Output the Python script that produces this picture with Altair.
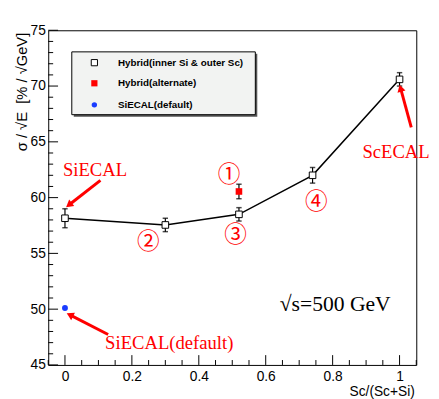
import altair as alt
import pandas as pd

# ---- data ----
hyb_x = [0.0, 0.3, 0.52, 0.74, 1.0]
hyb_y = [58.15, 57.55, 58.5, 62.0, 70.6]
hyb_err = [0.85, 0.6, 0.6, 0.7, 0.6]

alt_x = [0.52]
alt_y = [60.55]
alt_err = [0.65]

def_x = [0.0]
def_y = [50.1]

legend_labels = ["Hybrid(inner Si & outer Sc)", "Hybrid(alternate)", "SiECAL(default)"]

x_major = [0, 0.2, 0.4, 0.6, 0.8, 1.0]
x_minor = [-0.05, 0.05, 0.1, 0.15, 0.25, 0.3, 0.35, 0.45, 0.5, 0.55, 0.65, 0.7, 0.75, 0.85, 0.9, 0.95, 1.05]
y_major = [45, 50, 55, 60, 65, 70, 75]
y_minor = [46, 47, 48, 49, 51, 52, 53, 54, 56, 57, 58, 59, 61, 62, 63, 64, 66, 67, 68, 69, 71, 72, 73, 74]

ann_text = ["SiECAL", "ScECAL", "SiECAL(default)"]
ann_x = [-0.006, 0.889, 0.12]
ann_y = [61.98, 63.56, 46.41]

arrow_x = [0.106, 1.035, 0.129]
arrow_y = [61.54, 66.29, 47.73]
arrow_x2 = [0.0117, 1.003, 0.0147]
arrow_y2 = [59.34, 69.81, 49.49]
arrow_angle = [232, 345, 297]

circ_text = ["①", "②", "③", "④"]
circ_x = [0.49, 0.249, 0.510, 0.751]
circ_y = [61.98, 56.0, 56.61, 59.6]

energy_text = ["√s=500 GeV"]
energy_x = [0.642]
energy_y = [49.84]

X_TITLE = "Sc/(Sc+Si)"
Y_TITLE = "σ / √E \u00a0[% / √GeV]"

W, H = 375, 341
RED = "#ff0000"
BLUE = "#1a3cff"

xs = alt.Scale(domain=[-0.05, 1.05], nice=False, zero=False)
ys = alt.Scale(domain=[45, 75], nice=False, zero=False)

X_AXIS = alt.Axis(values=x_major, format="~g", ticks=False, domain=False, grid=False,
                  labelFontSize=14, labelPadding=5, labelColor="black",
                  labelFont="Liberation Sans",
                  title=X_TITLE, titleFont="Liberation Sans", titleFontSize=14,
                  titleFontWeight="normal", titleAnchor="end", titleAlign="right",
                  titleX=W - 2, titleY=31, titleBaseline="alphabetic", titleColor="black")
Y_AXIS = alt.Axis(values=y_major, ticks=False, domain=False, grid=False,
                  labelFontSize=14, labelPadding=3, labelColor="black",
                  labelFont="Liberation Sans",
                  title=Y_TITLE, titleFont="Liberation Sans", titleFontSize=15,
                  titleFontWeight="normal", titleAngle=270, titleAlign="right",
                  titleBaseline="middle", titleX=-27, titleY=2, titleColor="black")


def X(f="x"):
    return alt.X(f"{f}:Q", scale=xs, axis=X_AXIS, title=X_TITLE)


def Y(f="y"):
    return alt.Y(f"{f}:Q", scale=ys, axis=Y_AXIS, title=Y_TITLE)


hyb = pd.DataFrame({"x": hyb_x, "y": hyb_y, "lo": [a - b for a, b in zip(hyb_y, hyb_err)],
                    "hi": [a + b for a, b in zip(hyb_y, hyb_err)]})
alt_df = pd.DataFrame({"x": alt_x, "y": alt_y, "lo": [a - b for a, b in zip(alt_y, alt_err)],
                       "hi": [a + b for a, b in zip(alt_y, alt_err)]})
def_df = pd.DataFrame({"x": def_x, "y": def_y})

# inward ticks
xmaj = alt.Chart(pd.DataFrame({"v": x_major})).mark_rule(color="black", strokeWidth=1).encode(
    x=X("v"), y=alt.value(H), y2=alt.value(H - 10))
xmin = alt.Chart(pd.DataFrame({"v": x_minor})).mark_rule(color="black", strokeWidth=1).encode(
    x=X("v"), y=alt.value(H), y2=alt.value(H - 5))
ymaj = alt.Chart(pd.DataFrame({"v": y_major})).mark_rule(color="black", strokeWidth=1).encode(
    y=Y("v"), x=alt.value(0), x2=alt.value(10))
ymin = alt.Chart(pd.DataFrame({"v": y_minor})).mark_rule(color="black", strokeWidth=1).encode(
    y=Y("v"), x=alt.value(0), x2=alt.value(5))

line = alt.Chart(hyb).mark_line(color="black", strokeWidth=1.5).encode(x=X(), y=Y())
hyb_err_r = alt.Chart(hyb).mark_rule(color="black", strokeWidth=1.2).encode(x=X(), y=Y("lo"), y2="hi")
hyb_cap_lo = alt.Chart(hyb).mark_point(shape="stroke", size=30, color="black", strokeWidth=1.5).encode(x=X(), y=Y("lo"))
hyb_cap_hi = alt.Chart(hyb).mark_point(shape="stroke", size=30, color="black", strokeWidth=1.5).encode(x=X(), y=Y("hi"))
hyb_pts = alt.Chart(hyb).mark_point(shape="square", size=45, filled=True, fill="white",
                                    stroke="black", strokeWidth=1, opacity=1).encode(x=X(), y=Y())

alt_err_r = alt.Chart(alt_df).mark_rule(color="black", strokeWidth=1.2).encode(x=X(), y=Y("lo"), y2="hi")
alt_cap_lo = alt.Chart(alt_df).mark_point(shape="stroke", size=30, color="black", strokeWidth=1.5).encode(x=X(), y=Y("lo"))
alt_cap_hi = alt.Chart(alt_df).mark_point(shape="stroke", size=30, color="black", strokeWidth=1.5).encode(x=X(), y=Y("hi"))
alt_pts = alt.Chart(alt_df).mark_point(shape="square", size=45, filled=True, color=RED, opacity=1).encode(x=X(), y=Y())

def_pts = alt.Chart(def_df).mark_point(shape="circle", size=36, filled=True, color=BLUE, opacity=1).encode(x=X(), y=Y())

# annotations
ann = alt.Chart(pd.DataFrame({"x": ann_x, "y": ann_y, "t": ann_text})).mark_text(
    font="Liberation Serif", fontSize=19, color=RED, align="left", baseline="alphabetic").encode(
    x=X(), y=Y(), text="t:N")
arr = pd.DataFrame({"x": arrow_x, "y": arrow_y, "x2": arrow_x2, "y2": arrow_y2, "a": arrow_angle})
arr_line = alt.Chart(arr).mark_rule(color=RED, strokeWidth=3).encode(x=X(), y=Y(), x2="x2", y2="y2")
arr_head = alt.Chart(arr).mark_point(shape="triangle-up", size=70, filled=True, color=RED, opacity=1).encode(
    x=X("x2"), y=Y("y2"), angle=alt.Angle("a:Q", scale=None))
circ = alt.Chart(pd.DataFrame({"x": circ_x, "y": circ_y, "t": circ_text})).mark_text(
    font="Noto Sans CJK JP", fontSize=23, color=RED, align="center", baseline="middle").encode(
    x=X(), y=Y(), text="t:N")
energy = alt.Chart(pd.DataFrame({"x": energy_x, "y": energy_y, "t": energy_text})).mark_text(
    font="Liberation Serif", fontSize=22, color="black", align="left", baseline="alphabetic").encode(
    x=X(), y=Y(), text="t:N")

# legend box (layout in pixels)
one = pd.DataFrame({"k": [0]})
leg_shadow = alt.Chart(one).mark_rect(fill="#555555").encode(
    x=alt.value(26), x2=alt.value(213), y=alt.value(24), y2=alt.value(88))
leg_box = alt.Chart(one).mark_rect(fill="#f2f3f2", stroke="black", strokeWidth=1).encode(
    x=alt.value(24), x2=alt.value(211), y=alt.value(22), y2=alt.value(86))
leg_rows = [33, 54, 76]
leg_m1 = alt.Chart(one).mark_point(shape="square", size=40, filled=True, fill="white", stroke="black",
                                   strokeWidth=1, opacity=1).encode(x=alt.value(47), y=alt.value(leg_rows[0]))
leg_m2 = alt.Chart(one).mark_point(shape="square", size=40, filled=True, color=RED, opacity=1).encode(
    x=alt.value(47), y=alt.value(leg_rows[1]))
leg_m3 = alt.Chart(one).mark_point(shape="circle", size=30, filled=True, color=BLUE, opacity=1).encode(
    x=alt.value(47), y=alt.value(leg_rows[2]))
leg_txt = alt.Chart(pd.DataFrame({"t": legend_labels, "py": leg_rows})).mark_text(
    font="Liberation Sans", fontSize=10, fontWeight="bold", color="black", align="left",
    baseline="middle").encode(x=alt.value(71), y=alt.Y("py:Q", scale=None, axis=None), text="t:N")

chart = alt.layer(
    xmaj, xmin, ymaj, ymin,
    line, hyb_err_r, hyb_cap_lo, hyb_cap_hi, hyb_pts,
    alt_err_r, alt_cap_lo, alt_cap_hi, alt_pts, def_pts,
    arr_line, arr_head, ann, circ, energy,
    leg_shadow, leg_box, leg_m1, leg_m2, leg_m3, leg_txt,
).properties(
    width=W, height=H,
    autosize=alt.AutoSizeParams(type="none"),
    padding={"left": 41, "top": 19, "right": 15, "bottom": 31},
    background="white",
).configure_view(stroke="black", strokeWidth=1)

chart.save("out.html", embed_options={"renderer": "svg", "actions": False})
